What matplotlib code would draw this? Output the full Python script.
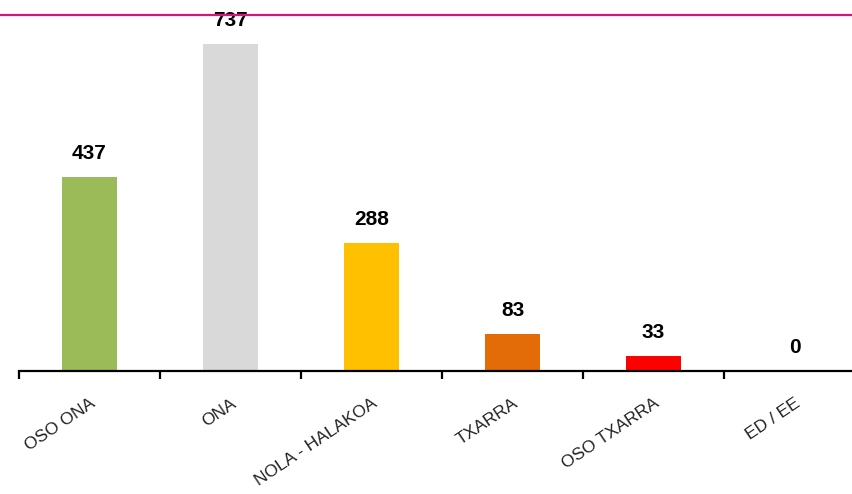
import matplotlib
matplotlib.use("Agg")
import matplotlib.pyplot as plt
from matplotlib.lines import Line2D
import numpy as np

categories = ["OSO ONA", "ONA", "NOLA - HALAKOA", "TXARRA", "OSO TXARRA", "ED / EE"]
values = [437, 737, 288, 83, 33, 0]
colors = ["#9BBB59", "#D9D9D9", "#FFC000", "#E36C09", "#FF0000", "#FFFFFF"]

plt.rcParams["font.family"] = ["Liberation Sans", "DejaVu Sans"]

fig = plt.figure(figsize=(8.52, 4.94), dpi=100)
ax = fig.add_axes([19 / 852, 123 / 494, 846 / 852, 356 / 494])

x = np.arange(len(categories))
ax.bar(x, values, width=0.385, color=colors, zorder=2)

for xi, v in zip(x, values):
    ax.annotate(str(v), (xi, v), xytext=(0, 17), textcoords="offset points",
                ha="center", va="center", fontsize=15, fontweight="bold",
                zorder=5, annotation_clip=False)

ax.set_xlim(-0.5, 5.5)
ax.set_ylim(0, 802)
for s in ["top", "right", "left"]:
    ax.spines[s].set_visible(False)
ax.spines["bottom"].set_linewidth(1.6)
ax.set_yticks([])

ax.set_xticks(x)
ax.set_xticklabels(categories, rotation=34, ha="right", va="top",
                   rotation_mode="anchor", fontsize=12.5, color="#222222")
ax.tick_params(axis="x", which="major", length=0, pad=18)
ax.set_xticks(np.arange(-0.5, 6.0, 1.0), minor=True)
ax.tick_params(axis="x", which="minor", length=6, width=1.6, direction="out")

fig.add_artist(Line2D([0, 1], [1 - 15 / 494, 1 - 15 / 494], color="#D6147A",
                      linewidth=1.6, transform=fig.transFigure, zorder=1))

fig.savefig("out.png", dpi=100)
